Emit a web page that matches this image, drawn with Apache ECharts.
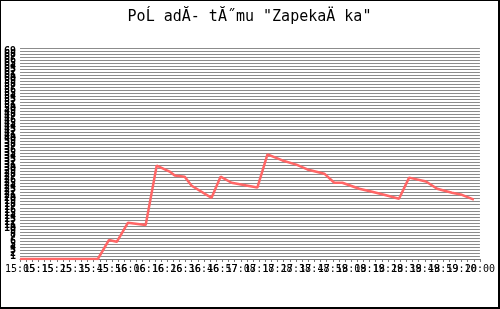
<!DOCTYPE html>
<html><head><meta charset="utf-8">
<script src="https://cdn.jsdelivr.net/npm/echarts@6/dist/echarts.min.js"></script>
<style>
html,body{margin:0;padding:0;background:#fff;}
#c{width:500px;height:309px;box-sizing:border-box;border-left:1px solid #000;border-top:1px solid #000;border-right:2px solid #000;border-bottom:2px solid #000;}
</style></head>
<body><div id="c"></div>
<script>
var titleText = 'PoĹ adĂ- tĂ˝mu "ZapekaÄ ka"';
var tickLabels = ["15:05","15:15","15:25","15:35","15:45","15:56","16:06","16:16","16:26","16:36","16:46","16:57","17:08","17:18","17:28","17:38","17:48","17:59","18:09","18:19","18:29","18:39","18:49","18:59","19:10","20:00"];
var xPos = [0,4.23,4.83,5.26,5.86,6.83,7.43,8.13,8.41,8.95,9.33,10.41,10.9,11.5,12.9,13.45,14.26,15.02,15.62,16.54,17.08,17.52,18.44,19.14,19.79,20.6,21.15,22.07,22.67,23.48,24.02,24.67];
var rankVals = [0,0,6.3,5.7,12,11.3,31,29,27.7,27.3,24.3,20.3,27.3,25.3,23.7,34.7,32.7,31.3,29.7,28.3,25.3,25.3,23.3,22.3,21.3,20,27,25.7,23.3,22,21.3,19.7];

var chart = echarts.init(document.getElementById('c'), null, {renderer:'canvas'});
var pts = xPos.map(function(x,i){return [x, rankVals[i]];});
var lastIdx = tickLabels.length-1;
var labelFont = {fontFamily:'DejaVu Sans Mono',fontSize:10,color:'#000'};
chart.setOption({
  animation:false,
  backgroundColor:'#fff',
  title:{text:titleText,left:'center',top:4,textStyle:{fontFamily:'DejaVu Sans Mono',fontSize:15,fontWeight:'normal',color:'#000'}},
  grid:{left:19,right:17,top:47,bottom:48},
  xAxis:[{type:'value',min:0,max:lastIdx,interval:1,position:'bottom',
    axisLine:{show:true,lineStyle:{color:'#777',width:1}},
    axisTick:{show:true,length:3,lineStyle:{color:'#777'}},
    minorTick:{show:true,splitNumber:3,length:3,lineStyle:{color:'#777'}},
    splitLine:{show:false},
    axisLabel:Object.assign({margin:5,showMinLabel:false,showMaxLabel:false,hideOverlap:false,
      formatter:function(v){return tickLabels[Math.round(v)]||'';}},labelFont)
  },{type:'value',min:0,max:lastIdx,interval:1,position:'bottom',offset:0,
    axisLine:{show:false},axisTick:{show:false},splitLine:{show:false},
    axisLabel:Object.assign({margin:5,showMinLabel:true,showMaxLabel:true,hideOverlap:false,
      formatter:function(v){var i=Math.round(v);return (i===0||i===lastIdx)?tickLabels[i]:'';}},labelFont)
  }],
  yAxis:{type:'value',min:0,max:70,interval:1,
    axisLine:{show:false},axisTick:{show:false},
    splitLine:{show:true,lineStyle:{color:'#8c8c8c',width:1}},
    axisLabel:{margin:4,fontFamily:'DejaVu Sans Mono',fontSize:10,fontWeight:'bold',color:'#000',hideOverlap:false}
  },
  series:[{type:'line',xAxisIndex:0,data:pts,showSymbol:false,lineStyle:{color:'#ff6666',width:2.5},itemStyle:{color:'#ff6666'}}]
});
</script></body></html>
